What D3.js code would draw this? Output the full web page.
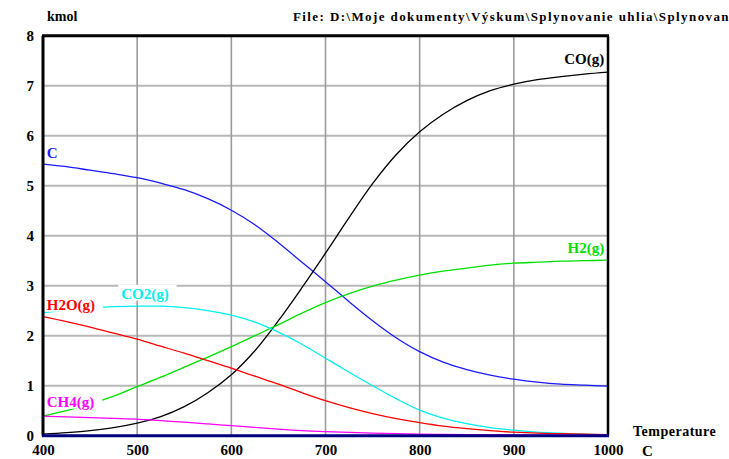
<!DOCTYPE html>
<html>
<head>
<meta charset="utf-8">
<script src="https://cdn.jsdelivr.net/npm/d3@7/dist/d3.min.js"></script>
<style>
  html, body { margin: 0; padding: 0; background: #fff; }
  svg { display: block; }
  text { font-family: "Liberation Serif", "Times New Roman", serif; font-weight: bold; }
</style>
</head>
<body>
<svg id="chart" width="729" height="459"></svg>
<script>
// Equilibrium composition of coal gasification products vs. temperature (kmol)
const temps = [400, 425, 450, 475, 500, 525, 550, 575, 600, 625, 650, 675, 700,
               725, 750, 775, 800, 825, 850, 875, 900, 925, 950, 975, 1000];

const seriesC   = [5.43, 5.38, 5.31, 5.24, 5.16, 5.05, 4.92, 4.74, 4.51, 4.22, 3.86, 3.47, 3.08,
                   2.68, 2.30, 1.96, 1.68, 1.47, 1.32, 1.21, 1.13, 1.07, 1.03, 1.01, 0.99];
const seriesCO  = [0.03, 0.06, 0.10, 0.16, 0.25, 0.38, 0.58, 0.86, 1.22, 1.70, 2.30, 2.96, 3.65,
                   4.36, 5.04, 5.62, 6.08, 6.43, 6.70, 6.90, 7.03, 7.12, 7.18, 7.23, 7.27];
const seriesH2  = [0.39, 0.50, 0.63, 0.79, 0.98, 1.17, 1.37, 1.57, 1.78, 2.00, 2.22, 2.45, 2.66,
                   2.84, 2.99, 3.11, 3.21, 3.29, 3.35, 3.41, 3.45, 3.47, 3.49, 3.50, 3.51];
const seriesCO2 = [2.46, 2.51, 2.55, 2.58, 2.59, 2.59, 2.56, 2.50, 2.41, 2.27, 2.07, 1.83, 1.55,
                   1.27, 1.00, 0.74, 0.51, 0.35, 0.24, 0.16, 0.11, 0.07, 0.05, 0.03, 0.02];
const seriesH2O = [2.38, 2.28, 2.17, 2.05, 1.93, 1.79, 1.65, 1.50, 1.35, 1.19, 1.03, 0.86, 0.70,
                   0.56, 0.44, 0.34, 0.26, 0.19, 0.14, 0.10, 0.07, 0.05, 0.04, 0.03, 0.02];
const seriesCH4 = [0.39, 0.375, 0.36, 0.345, 0.33, 0.30, 0.27, 0.235, 0.20, 0.165, 0.13, 0.10, 0.08,
                   0.065, 0.05, 0.04, 0.03, 0.025, 0.02, 0.018, 0.015, 0.013, 0.012, 0.011, 0.01];

const seriesNames  = ["C", "CO(g)", "H2(g)", "CO2(g)", "H2O(g)", "CH4(g)"];
const seriesColors = ["#1a1aff", "#000000", "#00e000", "#00f0f0", "#ff0000", "#ff00ff"];
const seriesValues = [seriesC, seriesCO, seriesH2, seriesCO2, seriesH2O, seriesCH4];

// label anchors in data units: [temperature, kmol, text-anchor, on white box?]
const labelAnchors = [
  [404, 5.55, "start", false],
  [996, 7.44, "end", false],
  [996, 3.66, "end", false],
  [483, 2.74, "start", true],
  [404, 2.52, "start", true],
  [404, 0.58, "start", true]
];

const xTicks = [400, 500, 600, 700, 800, 900, 1000];
const yTicks = [0, 1, 2, 3, 4, 5, 6, 7, 8];

const svg = d3.select("#chart");
const x = d3.scaleLinear().domain([400, 1000]).range([43, 608]);
const y = d3.scaleLinear().domain([0, 8]).range([435.7, 35.7]);

// grid
const grid = svg.append("g");
grid.selectAll("line.h").data(yTicks.slice(1, -1)).join("line")
  .attr("x1", x(400)).attr("x2", x(1000))
  .attr("y1", d => y(d)).attr("y2", d => y(d))
  .attr("stroke", "#b8b8b8").attr("stroke-width", 2);
grid.selectAll("line.v").data(xTicks.slice(1, -1)).join("line")
  .attr("x1", d => x(d)).attr("x2", d => x(d))
  .attr("y1", y(8)).attr("y2", y(0))
  .attr("stroke", "#9c9c9c").attr("stroke-width", 1.6);

// curves
const line = d3.line().x((d, i) => x(temps[i])).y(d => y(d)).curve(d3.curveCatmullRom.alpha(0.5));
svg.append("g").selectAll("path").data(seriesValues).join("path")
  .attr("d", d => line(d))
  .attr("fill", "none")
  .attr("stroke", (d, i) => seriesColors[i])
  .attr("stroke-width", 1.3);

// series labels (some on white boxes)
const labels = svg.append("g");
labelAnchors.forEach((a, i) => {
  const t = labels.append("text")
    .attr("x", x(a[0])).attr("y", y(a[1]))
    .attr("text-anchor", a[2])
    .attr("font-size", 15)
    .attr("fill", seriesColors[i])
    .text(seriesNames[i]);
  if (a[3]) {
    const b = t.node().getBBox();
    labels.insert("rect", () => t.node())
      .attr("x", b.x - 3).attr("y", b.y - 1)
      .attr("width", b.width + 11).attr("height", b.height - 1)
      .attr("fill", "#fff");
  }
});

// frame
svg.append("line").attr("x1", x(400) - 1).attr("x2", x(1000) + 1).attr("y1", y(8)).attr("y2", y(8))
  .attr("stroke", "#000").attr("stroke-width", 3);
svg.append("line").attr("x1", x(400)).attr("x2", x(400)).attr("y1", y(8)).attr("y2", y(0))
  .attr("stroke", "#000").attr("stroke-width", 3);
svg.append("line").attr("x1", x(1000)).attr("x2", x(1000)).attr("y1", y(8)).attr("y2", y(0))
  .attr("stroke", "#000").attr("stroke-width", 2.5);
svg.append("line").attr("x1", x(400) - 1).attr("x2", x(1000) + 1).attr("y1", y(0)).attr("y2", y(0))
  .attr("stroke", "#000080").attr("stroke-width", 3);

// axes tick labels
const xAxis = d3.axisBottom(x).tickValues(xTicks).tickFormat(d3.format("d")).tickSize(0).tickPadding(9);
const gx = svg.append("g").attr("transform", `translate(0,${y(0)})`).call(xAxis);
gx.select(".domain").remove();
gx.selectAll("text").attr("font-size", 15).attr("fill", "#000")
  .style("font-family", '"Liberation Serif", serif').style("font-weight", "bold");

const yAxis = d3.axisLeft(y).tickValues(yTicks).tickFormat(d3.format("d")).tickSize(0).tickPadding(9);
const gy = svg.append("g").attr("transform", `translate(${x(400)},0)`).call(yAxis);
gy.select(".domain").remove();
gy.selectAll("text").attr("font-size", 15).attr("fill", "#000")
  .style("font-family", '"Liberation Serif", serif').style("font-weight", "bold");

// titles
svg.append("text").attr("x", 47).attr("y", 21).attr("font-size", 14).text("kmol");
svg.append("text").attr("x", 293).attr("y", 21).attr("font-size", 13).attr("letter-spacing", 1.4)
  .text("File: D:\\Moje dokumenty\\Výskum\\Splynovanie uhlia\\Splynovanie");
svg.append("text").attr("x", 633).attr("y", 436).attr("font-size", 14).attr("letter-spacing", 0.5).text("Temperature");
svg.append("text").attr("x", 642).attr("y", 456).attr("font-size", 15).text("C");
</script>
</body>
</html>
